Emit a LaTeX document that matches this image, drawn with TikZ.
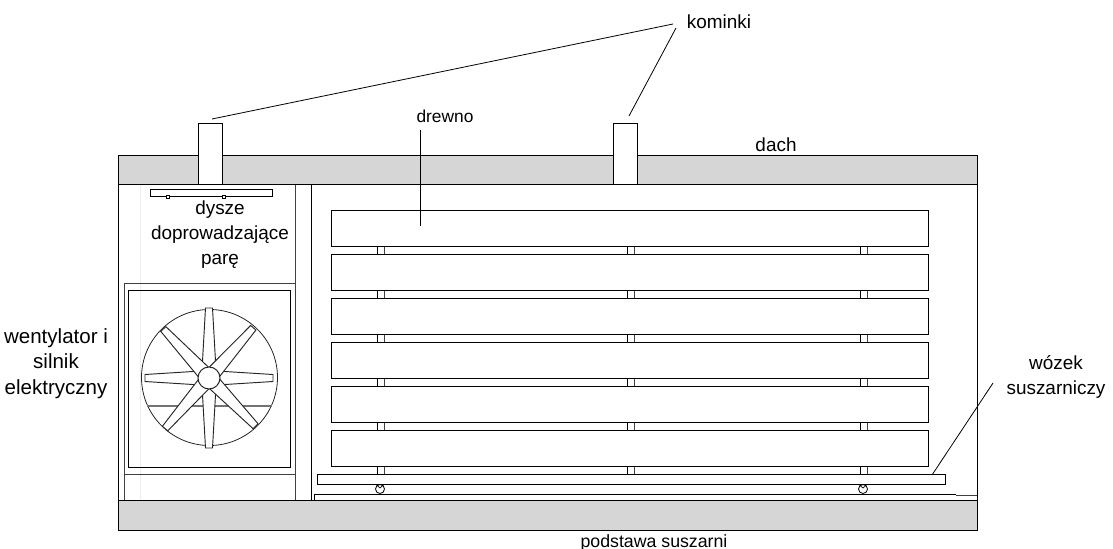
\documentclass[tikz,border=0pt]{standalone}
\usepackage{fontspec}
\setmainfont{Liberation Sans}
\tikzset{
  px/.style={x=0.75pt,y=-0.75pt},
  ln/.style={draw=black,line width=0.75pt},
  thin ln/.style={draw=black!75,line width=0.7pt},
  slab/.style={ln,fill=black!16},
  solid white/.style={ln,fill=white},
  blade/.style={draw=black!85,line width=0.7pt,fill=white},
  leader/.style={draw=black,line width=0.6pt},
  lbl/.style={font=\fontsize{14.2}{18.75}\selectfont,align=center,inner sep=0pt,text=black}
}
\begin{document}
\begin{tikzpicture}[px]
\useasboundingbox (0,0) rectangle (1113,549);
% faint line
\draw[black!7,line width=0.6pt] (140,184) -- (140,500);
% walls
\draw[ln] (977,184) -- (977,500);
\draw[ln] (118,184) -- (118,500);
\draw[thin ln] (295.5,184) -- (295.5,500);
\draw[ln] (311.5,184) -- (311.5,500);
% slabs
\draw[slab] (118.5,155.5) rectangle (977.5,184.5);
\draw[slab] (118.5,500.5) rectangle (977.5,530.5);
% chimneys
\draw[solid white] (198.5,123.5) rectangle (222,184.5);
\draw[solid white] (613.5,123.5) rectangle (637,184.5);
\coordinate (chimA) at (212,119);
\coordinate (chimB) at (629,116);
\coordinate (kA) at (673,24);
\coordinate (kB) at (676,28);
% nozzle bar
\draw[ln,line width=0.6pt] (150,189) rectangle (272,196);
\draw[ln,line width=0.5pt,fill=white] (166.5,195.5) rectangle (169.5,198);
\draw[ln,line width=0.5pt,fill=white] (222,195.5) rectangle (225,198);
% fan housing
\draw[thin ln] (124,283) rectangle (295.5,474);
\draw[thin ln] (124,474) -- (124,500);
\draw[ln] (128.5,290) rectangle (290,467);
\draw[draw=black!85,line width=0.6pt] (209.5,377.5) circle [radius=68];
\draw[draw=black!55,line width=0.9pt] (147,406) -- (272,406);
\foreach \a/\l in {90/70,-90/70,0/64,180/64,48.6/67,133/67,229/67,-46/67}
  \draw[blade,shift={(209,378)},rotate=\a] (8,-7) -- (\l,-3.5) -- (\l,3.5) -- (8,7) -- cycle;
\draw[blade,line width=0.75pt] (209,378) circle [radius=11];
% posts behind planks
\foreach \x in {377,627,860}{
  \draw[ln,line width=0.6pt] (\x,246) -- (\x,474);
  \draw[thin ln] (\x+7.5,246) -- (\x+7.5,474);
}
% planks
\foreach \y in {210,254,298,342,386,430}
  \draw[solid white] (331,\y) rectangle (928,\y+36);
% cart
\draw[solid white] (317,474) rectangle (945,484);
\draw[ln,line width=0.6pt] (380,489) circle [radius=4.5];
\draw[ln,line width=0.6pt] (863,489) circle [radius=4.5];
\draw[ln,line width=0.5pt] (376.5,485) -- (380,488) -- (383.5,485);
\draw[ln,line width=0.5pt] (859.5,485) -- (863,488) -- (866.5,485);
% rail
\draw[ln] (314,500) -- (314,494) -- (956,494);
\draw[thin ln] (956,495) -- (977,495);
% labels
\node[lbl,anchor=base] (kominki) at (719,29) {kominki};
\node[lbl,font=\fontsize{13}{18.75}\selectfont] (drewno) at (445,116) {drewno};
\node[lbl] (dach) at (776,145) {dach};
\node[lbl] (dysze) at (220,234.5) {dysze\\doprowadzające\\parę};
\node[lbl,font=\fontsize{15.4}{19.2}\selectfont] (went) at (56,363.5) {wentylator i\\silnik\\elektryczny};
\node[lbl] (wozek) at (1056,377) {wózek\\suszarniczy};
\node[lbl,font=\fontsize{13.3}{18.75}\selectfont] (podstawa) at (654,542.5) {podstawa suszarni};
% leaders
\coordinate (drewA) at (420,130);
\coordinate (drewB) at (420,226);
\coordinate (wozA) at (993,383);
\coordinate (wozB) at (932,475);
\draw[leader] (chimA) -- (kA);
\draw[leader] (chimB) -- (kB);
\draw[leader] (drewA) -- (drewB);
\draw[leader] (wozA) -- (wozB);
\end{tikzpicture}
\end{document}
